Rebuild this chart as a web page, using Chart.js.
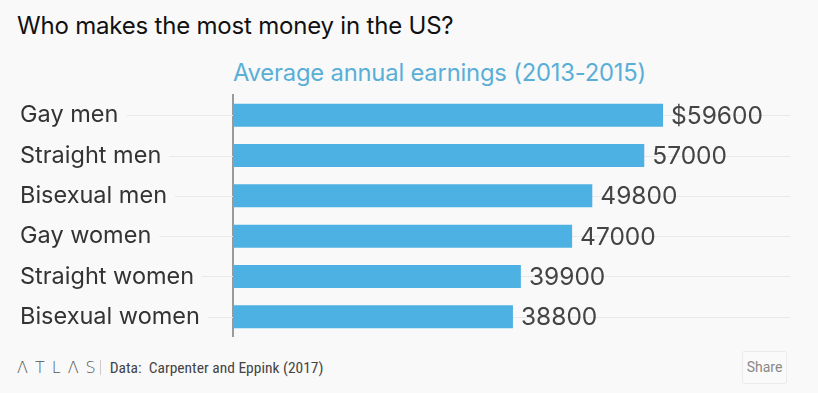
<!DOCTYPE html>
<html>
<head>
<meta charset="utf-8">
<script src="https://cdn.jsdelivr.net/npm/chart.js@4.4.1/dist/chart.umd.min.js"></script>
<style>
  html, body { margin: 0; padding: 0; background: #f9f9f9; }
  body { width: 818px; height: 393px; position: relative; overflow: hidden; font-family: Inter, "Noto Sans", sans-serif; }
  #title { position: absolute; left: 17px; top: 11px; font-size: 24px; color: #111; letter-spacing: -0.2px; }
  #subtitle { position: absolute; left: 233px; top: 58px; font-size: 23.8px; color: #5aafd8; letter-spacing: -0.2px; }
  #wrap { position: absolute; left: 0; top: 78px; width: 818px; height: 276px; }
  #footer { position: absolute; left: 17px; top: 358px; color: #444; display: flex; align-items: center; }
  #logo { font-family: "DejaVu Sans", sans-serif; font-weight: 200; font-size: 16px; letter-spacing: 7px; color: #555; }
  #sep { width: 1px; height: 15px; background: #ccc; margin: 0 9px 0 -3px; }
  #src { font-family: "Liberation Sans Narrow", "Roboto Condensed", Roboto, sans-serif; font-size: 15.5px; color: #444; }
  #share { position: absolute; left: 742px; top: 351px; width: 43px; height: 31px; border: 1px solid #ececec; border-radius: 2px; font-family: "Liberation Sans Narrow", Roboto, sans-serif; font-size: 14px; color: #888; text-align: center; line-height: 31px; background: #fafafa; }
</style>
</head>
<body>
<div id="title">Who makes the most money in the US?</div>
<div id="subtitle">Average annual earnings (2013-2015)</div>
<div id="wrap"><canvas id="chart"></canvas></div>
<div id="footer"><span id="logo">ΛTLΛS</span><span id="sep"></span><span id="src">Data:&nbsp; Carpenter and Eppink (2017)</span></div>
<div id="share">Share</div>
<script>
const groups = ['Gay men', 'Straight men', 'Bisexual men', 'Gay women', 'Straight women', 'Bisexual women'];
const earnings = [59600, 57000, 49800, 47000, 39900, 38800];
const valueLabels = ['$59600', '57000', '49800', '47000', '39900', '38800'];

const labelFont = '23.5px Inter, "Noto Sans", sans-serif';

// faint row lines behind the labels and bars
const rowLines = {
    id: 'rowLines',
    beforeDatasetsDraw(chart) {
        const { ctx, chartArea, scales } = chart;
        ctx.save();
        ctx.font = labelFont;
        ctx.strokeStyle = '#e9e9e9';
        ctx.lineWidth = 1;
        groups.forEach((g, i) => {
            const y = Math.round(scales.y.getPixelForValue(i)) + 0.5;
            const start = 20 + ctx.measureText(g).width + 8;
            ctx.beginPath();
            ctx.moveTo(start, y);
            ctx.lineTo(chartArea.right, y);
            ctx.stroke();
        });
        ctx.restore();
    }
};

// value labels at bar ends
const barValues = {
    id: 'barValues',
    afterDatasetsDraw(chart) {
        const { ctx } = chart;
        const meta = chart.getDatasetMeta(0);
        ctx.save();
        ctx.font = '24.5px Inter, "Noto Sans", sans-serif';
        ctx.fillStyle = '#444';
        ctx.textBaseline = 'middle';
        meta.data.forEach((bar, i) => {
            ctx.fillText(valueLabels[i], bar.x + 8, bar.y + 1);
        });
        ctx.restore();
    }
};

new Chart(document.getElementById('chart'), {
    type: 'bar',
    data: {
        labels: groups,
        datasets: [{
            data: earnings,
            backgroundColor: '#4eb1e3',
            barPercentage: 0.57,
            categoryPercentage: 1
        }]
    },
    options: {
        indexAxis: 'y',
        responsive: true,
        maintainAspectRatio: false,
        animation: false,
        layout: { padding: { left: 20, right: 28, top: 0, bottom: 0 } },
        plugins: {
            legend: { display: false },
            tooltip: { enabled: false }
        },
        scales: {
            x: {
                display: false,
                min: 0,
                max: 77200
            },
            y: {
                grid: { display: false },
                border: { display: true, color: '#9a9a9a', width: 2 },
                ticks: {
                    crossAlign: 'far',
                    color: '#333',
                    font: { family: 'Inter, "Noto Sans", sans-serif', size: 23.5 }
                },
                afterFit(scale) { scale.width = 213; }
            }
        }
    },
    plugins: [rowLines, barValues]
});
</script>
</body>
</html>
